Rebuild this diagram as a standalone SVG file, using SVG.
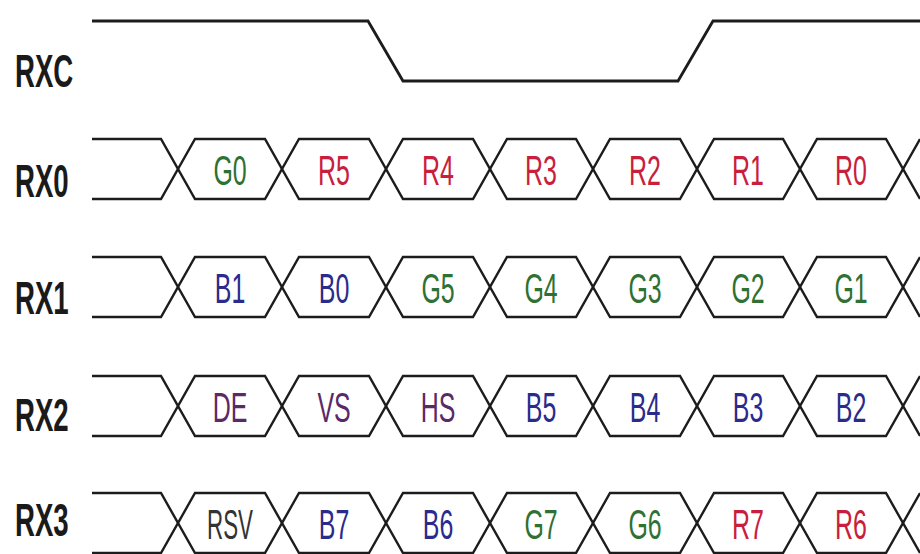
<svg xmlns="http://www.w3.org/2000/svg" xmlns:xlink="http://www.w3.org/1999/xlink" width="920" height="554" viewBox="0 0 920 554">
  <style>
    .sig { fill: none; stroke: #1c1c1c; stroke-width: 2.8; stroke-linejoin: miter; }
    .bus polyline { fill: none; stroke: #1c1c1c; stroke-width: 2.4; stroke-linejoin: miter; }
    .name { font-family: "Liberation Sans", Arial, sans-serif; font-weight: bold; font-size: 46px; fill: #1a1a1a; }
    .lbl { font-family: "Liberation Sans", Arial, sans-serif; font-size: 43px; text-anchor: middle; }
    .g { fill: #2f7134; }
    .r { fill: #c8203c; }
    .b { fill: #2b2b8c; }
    .p { fill: #5a2a68; }
    .k { fill: #333333; }
  </style>
  <defs>
    <g id="bus" class="bus">
      <polyline points="92,0 161,0 195,60 265,60 299,0 369,0 403,60 473,60 507,0 576,0 610,60 680,60 714,0 783,0 817,60 886,60 920,0"/>
      <polyline points="92,60 161,60 195,0 265,0 299,60 369,60 403,0 473,0 507,60 576,60 610,0 680,0 714,60 783,60 817,0 886,0 920,60"/>
    </g>
  </defs>
  <rect width="920" height="554" fill="#ffffff"/>

  <g id="RXC">
    <text class="name" transform="translate(15,87) scale(0.6,1)">RXC</text>
    <polyline class="sig" points="92,21 368,21 403,81 678,81 713,21 920,21"/>
  </g>

  <g id="RX0">
    <text class="name" transform="translate(15,197) scale(0.6,1)">RX0</text>
    <use xlink:href="#bus" href="#bus" y="139"/>
    <text class="lbl g" transform="translate(230,185) scale(0.58,1)">G0</text>
    <text class="lbl r" transform="translate(334,185) scale(0.58,1)">R5</text>
    <text class="lbl r" transform="translate(438,185) scale(0.58,1)">R4</text>
    <text class="lbl r" transform="translate(541,185) scale(0.58,1)">R3</text>
    <text class="lbl r" transform="translate(645,185) scale(0.58,1)">R2</text>
    <text class="lbl r" transform="translate(748,185) scale(0.58,1)">R1</text>
    <text class="lbl r" transform="translate(851,185) scale(0.58,1)">R0</text>
  </g>

  <g id="RX1">
    <text class="name" transform="translate(15,314) scale(0.6,1)">RX1</text>
    <use xlink:href="#bus" href="#bus" y="257"/>
    <text class="lbl b" transform="translate(230,303) scale(0.58,1)">B1</text>
    <text class="lbl b" transform="translate(334,303) scale(0.58,1)">B0</text>
    <text class="lbl g" transform="translate(438,303) scale(0.58,1)">G5</text>
    <text class="lbl g" transform="translate(541,303) scale(0.58,1)">G4</text>
    <text class="lbl g" transform="translate(645,303) scale(0.58,1)">G3</text>
    <text class="lbl g" transform="translate(748,303) scale(0.58,1)">G2</text>
    <text class="lbl g" transform="translate(851,303) scale(0.58,1)">G1</text>
  </g>

  <g id="RX2">
    <text class="name" transform="translate(15,431) scale(0.6,1)">RX2</text>
    <use xlink:href="#bus" href="#bus" y="376"/>
    <text class="lbl p" transform="translate(230,422) scale(0.58,1)">DE</text>
    <text class="lbl p" transform="translate(334,422) scale(0.58,1)">VS</text>
    <text class="lbl p" transform="translate(438,422) scale(0.58,1)">HS</text>
    <text class="lbl b" transform="translate(541,422) scale(0.58,1)">B5</text>
    <text class="lbl b" transform="translate(645,422) scale(0.58,1)">B4</text>
    <text class="lbl b" transform="translate(748,422) scale(0.58,1)">B3</text>
    <text class="lbl b" transform="translate(851,422) scale(0.58,1)">B2</text>
  </g>

  <g id="RX3">
    <text class="name" transform="translate(15,536) scale(0.6,1)">RX3</text>
    <use xlink:href="#bus" href="#bus" y="493"/>
    <text class="lbl k" transform="translate(230,539) scale(0.52,1)">RSV</text>
    <text class="lbl b" transform="translate(334,539) scale(0.58,1)">B7</text>
    <text class="lbl b" transform="translate(438,539) scale(0.58,1)">B6</text>
    <text class="lbl g" transform="translate(541,539) scale(0.58,1)">G7</text>
    <text class="lbl g" transform="translate(645,539) scale(0.58,1)">G6</text>
    <text class="lbl r" transform="translate(748,539) scale(0.58,1)">R7</text>
    <text class="lbl r" transform="translate(851,539) scale(0.58,1)">R6</text>
  </g>
</svg>
